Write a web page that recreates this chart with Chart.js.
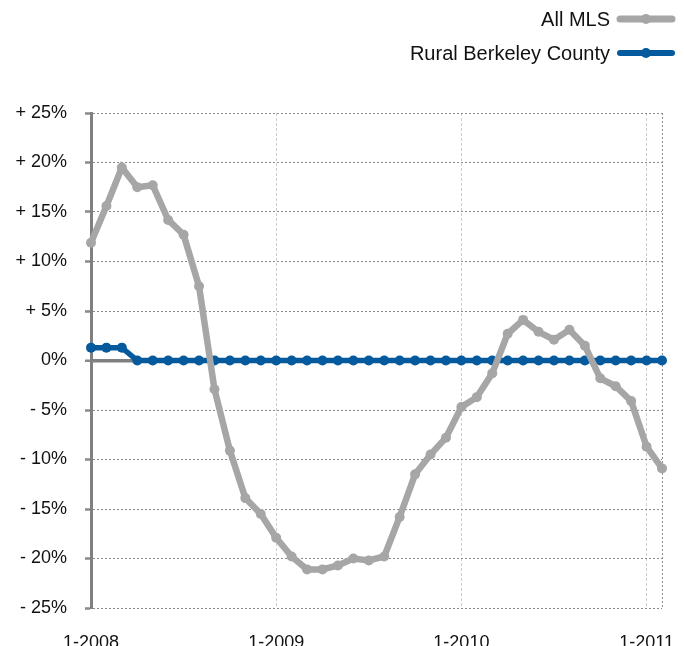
<!DOCTYPE html>
<html>
<head>
<meta charset="utf-8">
<script src="https://cdn.jsdelivr.net/npm/chart.js@4/dist/chart.umd.min.js"></script>
<style>
html,body{margin:0;padding:0;background:#fff;}
#wrap{width:684px;height:646px;position:relative;}
</style>
</head>
<body>
<div id="wrap"><canvas id="c"></canvas></div>
<script>
// Month categories (Jan 2008 .. Feb 2011)
const categories = [
  '1-2008','2-2008','3-2008','4-2008','5-2008','6-2008','7-2008','8-2008','9-2008','10-2008','11-2008','12-2008',
  '1-2009','2-2009','3-2009','4-2009','5-2009','6-2009','7-2009','8-2009','9-2009','10-2009','11-2009','12-2009',
  '1-2010','2-2010','3-2010','4-2010','5-2010','6-2010','7-2010','8-2010','9-2010','10-2010','11-2010','12-2010',
  '1-2011','2-2011'
];
const allMLS = [
  11.9, 15.6, 19.5, 17.5, 17.7, 14.2, 12.7, 7.5, -2.9, -9.1, -13.9, -15.5,
  -17.9, -19.8, -21.1, -21.1, -20.7, -20.0, -20.2, -19.8, -15.8, -11.5, -9.5, -7.8,
  -4.7, -3.7, -1.3, 2.7, 4.1, 2.9, 2.1, 3.1, 1.5, -1.8, -2.6, -4.1,
  -8.7, -10.9
];
const ruralBerkeley = [
  1.3, 1.3, 1.3, 0, 0, 0, 0, 0, 0, 0, 0, 0,
  0, 0, 0, 0, 0, 0, 0, 0, 0, 0, 0, 0,
  0, 0, 0, 0, 0, 0, 0, 0, 0, 0, 0, 0,
  0, 0
];
const seriesNames = ['All MLS', 'Rural Berkeley County'];
const yTickValues = [25, 20, 15, 10, 5, 0, -5, -10, -15, -20, -25];
const yTickLabels = ['+ 25%', '+ 20%', '+ 15%', '+ 10%', '+ 5%', '0%', '- 5%', '- 10%', '- 15%', '- 20%', '- 25%'];

const GRAY = '#a6a6a6';
const BLUE = '#045a9c';
const FONT = '"Liberation Sans", Arial, Helvetica, sans-serif';

const legendPlugin = {
  id: 'rightLegend',
  afterDraw(chart) {
    const ctx = chart.ctx;
    const items = [
      {text: seriesNames[0], color: GRAY, width: 7, y: 19},
      {text: seriesNames[1], color: BLUE, width: 6, y: 53}
    ];
    ctx.save();
    ctx.font = '20px ' + FONT;
    ctx.textAlign = 'right';
    ctx.textBaseline = 'middle';
    items.forEach(it => {
      ctx.fillStyle = '#111';
      ctx.fillText(it.text, 610, it.y + 1);
      ctx.strokeStyle = it.color;
      ctx.lineWidth = it.width;
      ctx.lineCap = 'round';
      ctx.beginPath();
      ctx.moveTo(620, it.y);
      ctx.lineTo(672, it.y);
      ctx.stroke();
      ctx.fillStyle = it.color;
      ctx.beginPath();
      ctx.arc(646, it.y, 5, 0, Math.PI * 2);
      ctx.fill();
    });
    ctx.restore();
  }
};

new Chart(document.getElementById('c'), {
  type: 'line',
  data: {
    labels: categories,
    datasets: [
      {
        label: seriesNames[0],
        data: allMLS,
        borderColor: GRAY,
        backgroundColor: GRAY,
        borderWidth: 6.5,
        pointRadius: 5,
        pointBorderWidth: 0,
        pointBackgroundColor: GRAY,
        tension: 0,
        order: 0
      },
      {
        label: seriesNames[1],
        data: ruralBerkeley,
        borderColor: BLUE,
        backgroundColor: BLUE,
        borderWidth: 5.5,
        pointRadius: 5,
        pointBorderWidth: 0,
        pointBackgroundColor: BLUE,
        tension: 0,
        order: 1
      }
    ]
  },
  options: {
    responsive: true,
    maintainAspectRatio: false,
    animation: false,
    layout: {autoPadding: false, padding: {top: 113, right: 22, left: 0, bottom: 0}},
    plugins: {
      legend: {display: false},
      tooltip: {enabled: false}
    },
    scales: {
      x: {
        type: 'category',
        offset: false,
        afterFit(scale) { scale.height = 38; scale.paddingLeft = 0; scale.paddingRight = 0; },
        border: {display: false, dash: (c) => (c.index === categories.length - 1 ? [2, 2] : [3, 2])},
        grid: {
          drawTicks: false,
          lineWidth: 1,
          color: (c) => {
            if (c.index === categories.length - 1) return '#8c8c8c';
            if (c.index % 12 === 0) return '#cccccc';
            return 'rgba(0,0,0,0)';
          }
        },
        ticks: {
          autoSkip: false,
          maxRotation: 0,
          minRotation: 0,
          padding: 24,
          color: '#111',
          font: {family: FONT, size: 18},
          callback(v, i) {
            const l = categories[i];
            return l.startsWith('1-') ? l : '';
          }
        }
      },
      y: {
        min: -25,
        max: 25,
        afterFit(scale) { scale.width = 91; },
        border: {
          display: true,
          color: '#808080',
          width: 3,
          dash: (c) => (c.tick && c.tick.value === 0 ? [] : [2, 2])
        },
        grid: {
          color: (c) => (c.tick && c.tick.value === 0 ? '#808080' : '#8a8a8a'),
          lineWidth: (c) => (c.tick && c.tick.value === 0 ? 3.5 : 1),
          tickColor: '#8a8a8a',
          tickWidth: 2.5,
          tickLength: 6,
          tickBorderDash: []
        },
        ticks: {
          stepSize: 5,
          padding: 18,
          color: '#111',
          font: {family: FONT, size: 18},
          callback(v) {
            const k = yTickValues.indexOf(v);
            return k >= 0 ? yTickLabels[k] : '';
          }
        }
      }
    }
  },
  plugins: [legendPlugin]
});
</script>
</body>
</html>
